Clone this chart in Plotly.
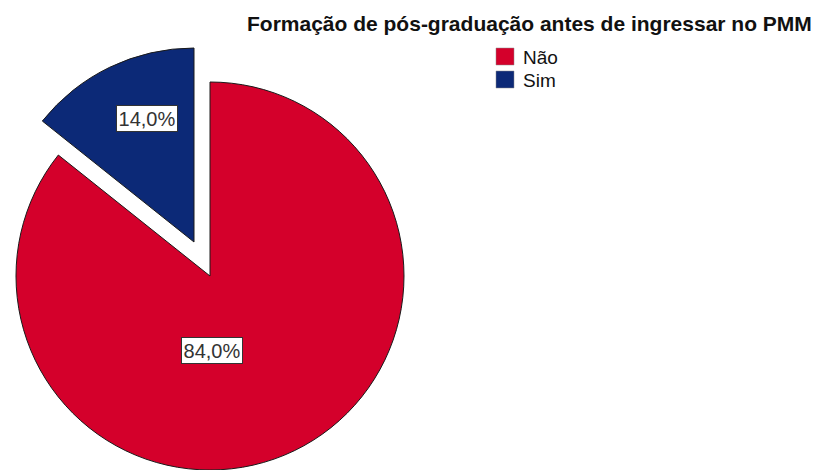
import plotly.graph_objects as go

# Data
categories = ["Não", "Sim"]
percentages = [84.0, 14.0]
colors = ["#D4002B", "#0C2977"]
title_text = "Formação de pós-graduação antes de ingressar no PMM"

W, H = 821, 470
R = 194                    # pie radius in px
CENTER = (210, 276)        # centre of the main pie in px (from top-left)
EXPLODE = (-16, -34)       # offset of the exploded "Sim" slice in px
TRANSPARENT = "rgba(0,0,0,0)"
EDGE = "#1a1a1a"
FONT = "Liberation Sans, Arial"


def px_x(x):
    return x / W


def px_y(y):
    return 1 - y / H


def domain_for(cx, cy, r):
    x0, x1 = max(cx - r, 0), cx + r
    y0, y1 = cy - r, min(cy + r, H)
    return dict(x=[px_x(x0), px_x(x1)], y=[px_y(y1), px_y(y0)])


def slice_style(visible_idx):
    fill = [c if i == visible_idx else TRANSPARENT for i, c in enumerate(colors)]
    edge = [EDGE if i == visible_idx else TRANSPARENT for i in range(len(colors))]
    return dict(colors=fill, line=dict(color=edge, width=1))


fig = go.Figure()

# Main body ("Não"), starting at 12 o'clock and running clockwise
fig.add_trace(go.Pie(
    labels=categories, values=percentages, sort=False,
    direction="clockwise", rotation=0,
    marker=slice_style(0), textinfo="none", hoverinfo="label+percent",
    showlegend=False,
    domain=domain_for(CENTER[0], CENTER[1], R),
))

# Exploded slice ("Sim")
ecx, ecy = CENTER[0] + EXPLODE[0], CENTER[1] + EXPLODE[1]
fig.add_trace(go.Pie(
    labels=categories, values=percentages, sort=False,
    direction="clockwise", rotation=0,
    marker=slice_style(1), textinfo="none", hoverinfo="label+percent",
    showlegend=False,
    domain=domain_for(ecx, ecy, R),
))

# Percentage labels
label_pos = {"Não": (211.5, 350.5), "Sim": (146.5, 119)}
for name, val in zip(categories, percentages):
    lx, ly = label_pos[name]
    fig.add_annotation(
        x=px_x(lx), y=px_y(ly), xref="paper", yref="paper",
        xanchor="center", yanchor="middle",
        text=f"{val:.1f}%".replace(".", ","), showarrow=False,
        width=58, height=23,
        font=dict(family=FONT, size=20, color="#333333"),
        bgcolor="white", bordercolor="#333333", borderwidth=1, borderpad=1,
    )

# Legend title
fig.add_annotation(
    x=px_x(245), y=px_y(24), xref="paper", yref="paper",
    xanchor="left", yanchor="middle",
    text=f"<b>{title_text}</b>", showarrow=False,
    font=dict(family=FONT, size=21, color="#111111"),
)

# Legend: swatches and labels
LEG_X, LEG_Y0, LEG_STEP, SW = 496, 48, 23, 18
for i, (name, col) in enumerate(zip(categories, colors)):
    top = LEG_Y0 + i * LEG_STEP
    fig.add_shape(
        type="rect", xref="paper", yref="paper",
        x0=px_x(LEG_X), x1=px_x(LEG_X + SW),
        y0=px_y(top + SW - 1), y1=px_y(top),
        fillcolor=col, line=dict(color="#888888", width=0.5),
    )
    fig.add_annotation(
        x=px_x(LEG_X + SW + 7), y=px_y(top + SW / 2), xref="paper", yref="paper",
        xanchor="left", yanchor="middle", text=name, showarrow=False,
        font=dict(family=FONT, size=19, color="#111111"),
    )

fig.update_layout(
    width=W, height=H,
    margin=dict(l=0, r=0, t=0, b=0),
    paper_bgcolor="white",
    showlegend=False,
)

fig.write_html("out.html")
